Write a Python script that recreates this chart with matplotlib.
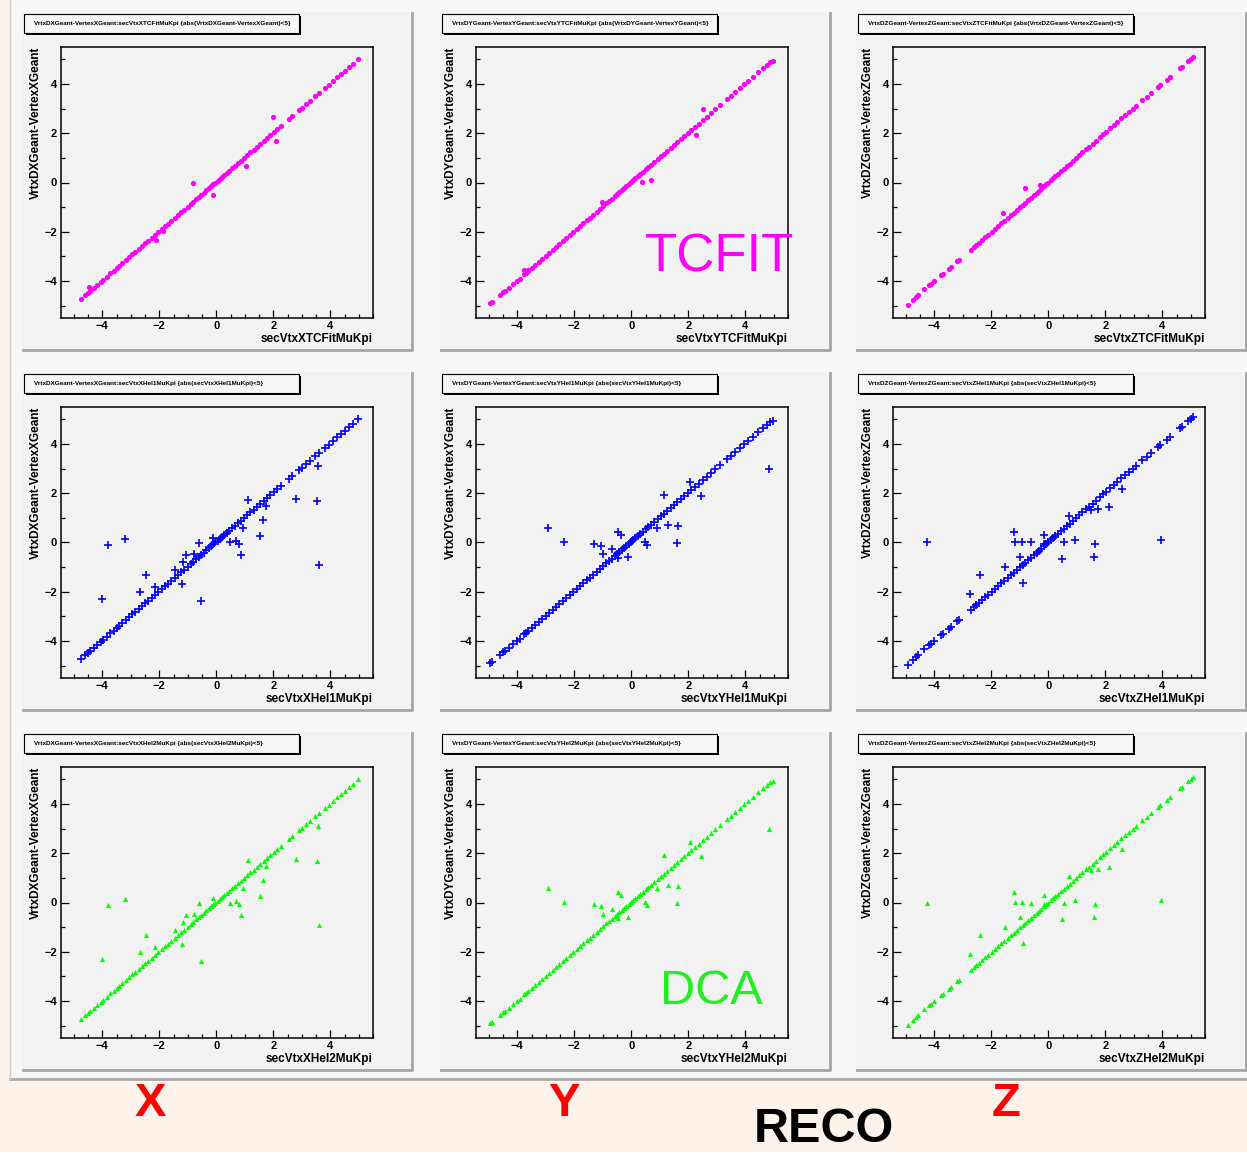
"""
Vertex residual scatter grid: Geant truth vs reconstructed secondary vertex
(TCFit / Hel1 / Hel2) for X, Y, Z.
"""

import matplotlib
matplotlib.use("Agg")
import matplotlib.pyplot as plt
from matplotlib import font_manager
from matplotlib.patches import Rectangle
from matplotlib.lines import Line2D
from matplotlib.ticker import MultipleLocator

W, H = 1247, 1152
plt.rcParams["font.family"] = ["Liberation Sans", "DejaVu Sans"]

# ---------------------------------------------------------------------------
# data
# ---------------------------------------------------------------------------

COORDS = ["X", "Y", "Z"]
RECOS = ["TCFit", "Hel1", "Hel2"]

# points along the diagonal, one set per coordinate
diag_x_X = [-4.75, -4.62, -4.5, -4.44, -4.3, -4.18, -4.05, -3.98, -3.85, -3.72, -3.6, -3.5,
            -3.41, -3.3, -3.18, -3.05, -2.95, -2.84, -2.72, -2.6, -2.5, -2.38, -2.26, -2.15,
            -2.03, -1.92, -1.8, -1.7, -1.58, -1.46, -1.35, -1.24, -1.12, -1.0, -0.9, -0.8,
            -0.7, -0.62, -0.52, -0.44, -0.35, -0.26, -0.18, -0.1, -0.03, 0.05, 0.12, 0.2,
            0.28, 0.37, 0.46, 0.55, 0.65, 0.76, 0.86, 0.97, 1.08, 1.2, 1.31, 1.43, 1.55,
            1.66, 1.78, 1.9, 2.02, 2.14, 2.27, 2.55, 2.66, 2.9, 3.02, 3.15, 3.3, 3.48, 3.62,
            3.82, 3.95, 4.1, 4.25, 4.38, 4.52, 4.65, 4.8, 4.98]
diag_y_X = [-4.72, -4.58, -4.49, -4.4, -4.27, -4.16, -4.02, -3.97, -3.83, -3.69, -3.58, -3.47,
            -3.4, -3.27, -3.16, -3.03, -2.92, -2.82, -2.7, -2.58, -2.47, -2.36, -2.24, -2.12,
            -2.01, -1.9, -1.77, -1.68, -1.55, -1.44, -1.33, -1.21, -1.1, -0.98, -0.87, -0.78,
            -0.67, -0.6, -0.49, -0.42, -0.32, -0.24, -0.15, -0.08, 0.0, 0.08, 0.14, 0.23,
            0.3, 0.4, 0.48, 0.58, 0.67, 0.79, 0.88, 1.0, 1.1, 1.23, 1.33, 1.46, 1.57,
            1.69, 1.8, 1.93, 2.04, 2.17, 2.29, 2.58, 2.68, 2.93, 3.04, 3.18, 3.32, 3.51, 3.64,
            3.85, 3.97, 4.13, 4.27, 4.41, 4.54, 4.68, 4.82, 5.0]

diag_x_Y = [-4.97, -4.88, -4.6, -4.5, -4.42, -4.3, -4.15, -4.02, -3.92, -3.78, -3.7, -3.62,
            -3.5, -3.38, -3.25, -3.12, -3.0, -2.88, -2.76, -2.64, -2.52, -2.4, -2.28, -2.15,
            -2.03, -1.9, -1.8, -1.68, -1.56, -1.45, -1.33, -1.22, -1.1, -0.98, -0.88, -0.78,
            -0.68, -0.58, -0.5, -0.42, -0.33, -0.25, -0.17, -0.09, -0.02, 0.06, 0.14, 0.22,
            0.31, 0.4, 0.5, 0.6, 0.7, 0.81, 0.92, 1.03, 1.14, 1.26, 1.38, 1.5, 1.62, 1.74,
            1.86, 1.98, 2.1, 2.22, 2.36, 2.5, 2.64, 2.8, 2.95, 3.1, 3.35, 3.5, 3.65, 3.8,
            3.95, 4.1, 4.28, 4.45, 4.62, 4.75, 4.88, 4.98]
diag_y_Y = [-4.9, -4.86, -4.58, -4.46, -4.4, -4.27, -4.1, -3.98, -3.9, -3.73, -3.66, -3.58,
            -3.48, -3.35, -3.22, -3.1, -2.97, -2.85, -2.72, -2.62, -2.49, -2.37, -2.25, -2.12,
            -2.0, -1.87, -1.78, -1.65, -1.53, -1.43, -1.3, -1.19, -1.08, -0.96, -0.85, -0.76,
            -0.65, -0.56, -0.47, -0.39, -0.3, -0.22, -0.14, -0.06, 0.01, 0.09, 0.17, 0.25,
            0.34, 0.43, 0.53, 0.63, 0.73, 0.84, 0.95, 1.06, 1.17, 1.29, 1.41, 1.53, 1.65, 1.77,
            1.89, 2.01, 2.13, 2.26, 2.39, 2.53, 2.67, 2.83, 2.98, 3.13, 3.38, 3.53, 3.68, 3.83,
            3.98, 4.13, 4.3, 4.47, 4.64, 4.77, 4.9, 4.95]

diag_x_Z = [-4.93, -4.75, -4.66, -4.58, -4.35, -4.18, -4.1, -4.02, -3.75, -3.68, -3.5, -3.42,
            -3.22, -3.15, -2.72, -2.62, -2.52, -2.42, -2.32, -2.22, -2.1, -1.98, -1.87, -1.76,
            -1.65, -1.54, -1.43, -1.32, -1.2, -1.1, -1.0, -0.9, -0.8, -0.7, -0.6, -0.5, -0.41,
            -0.32, -0.24, -0.16, -0.08, 0.0, 0.08, 0.16, 0.25, 0.34, 0.44, 0.54, 0.64, 0.75,
            0.86, 0.97, 1.08, 1.2, 1.32, 1.44, 1.56, 1.68, 1.8, 1.92, 2.04, 2.16, 2.3, 2.42,
            2.56, 2.7, 2.84, 2.96, 3.08, 3.3, 3.45, 3.6, 3.85, 3.92, 4.15, 4.28, 4.62, 4.68,
            4.9, 5.0, 5.07]
diag_y_Z = [-4.98, -4.78, -4.64, -4.58, -4.33, -4.16, -4.1, -4.0, -3.77, -3.7, -3.52, -3.44,
            -3.2, -3.16, -2.74, -2.63, -2.54, -2.44, -2.33, -2.23, -2.12, -1.99, -1.88, -1.78,
            -1.66, -1.55, -1.44, -1.33, -1.22, -1.12, -1.01, -0.91, -0.82, -0.71, -0.61, -0.51,
            -0.42, -0.33, -0.25, -0.16, -0.08, 0.0, 0.09, 0.17, 0.26, 0.35, 0.46, 0.55, 0.66,
            0.77, 0.88, 0.99, 1.1, 1.22, 1.34, 1.46, 1.58, 1.7, 1.83, 1.95, 2.07, 2.2, 2.33,
            2.46, 2.6, 2.74, 2.88, 3.0, 3.12, 3.33, 3.48, 3.62, 3.88, 3.95, 4.18, 4.3, 4.64,
            4.7, 4.93, 5.03, 5.09]

# off-diagonal points, TCFit
tc_out_x_X = [-0.82, -0.12, 2.0, 2.09, 1.04, -2.12, -1.86, -4.47]
tc_out_y_X = [-0.04, -0.49, 2.67, 1.69, 0.68, -2.35, -1.97, -4.24]
tc_out_x_Y = [2.51, 0.36, 0.69, -1.04, -3.77, -3.62, 2.26]
tc_out_y_Y = [2.97, 0.04, 0.12, -0.81, -3.54, -3.56, 1.93]
tc_out_x_Z = [-0.8, -1.6, -0.3]
tc_out_y_Z = [-0.22, -1.25, -0.12]

# off-diagonal points, helix fits (Hel1 and Hel2 look identical)
hel_out_x_X = [-3.81, -3.19, -4.01, -2.45, -2.69, -2.14, -1.46, -1.20, -1.06, -1.18, -0.77,
               -0.60, -0.55, -0.13, 0.47, 0.68, 0.81, 0.88, 0.93, 1.10, 1.64, 1.54, 1.75,
               2.80, 3.53, 3.56, 3.61]
hel_out_y_X = [-0.11, 0.16, -2.31, -1.33, -2.0, -1.80, -1.13, -1.69, -0.52, -0.79, -0.46,
               -0.01, -2.37, 0.19, 0.0, 0.08, -0.08, -0.52, 0.57, 1.73, 0.91, 0.26, 1.47,
               1.78, 1.69, 3.10, -0.93]
hel_out_x_Y = [-2.92, -2.35, -1.30, -1.06, -0.99, -0.67, -0.47, -0.36, -0.46, -0.11, 0.48,
               0.56, 0.91, 1.30, 1.64, 1.16, 1.60, 2.05, 2.44, 4.83]
hel_out_y_Y = [0.60, 0.04, -0.05, -0.16, -0.48, -0.26, 0.41, 0.30, -0.63, -0.57, 0.03,
               -0.11, 0.60, 0.71, 0.65, 1.93, -0.01, 2.45, 1.88, 2.97]
hel_out_x_Z = [-4.26, -2.74, -2.39, -1.51, -1.21, -1.16, -0.94, -0.99, -0.90, -0.59, -0.16,
               -0.16, 0.55, 0.47, 0.73, 0.94, 1.50, 1.64, 1.62, 1.75, 2.13, 2.58, 3.95]
hel_out_y_Z = [0.0, -2.10, -1.33, -1.01, 0.41, 0.04, 0.04, -0.57, -1.65, 0.0, 0.30,
               -0.08, 0.0, -0.68, 1.07, 0.11, 1.33, -0.08, -0.57, 1.37, 1.44, 2.19, 0.10]

DIAG = {"X": (diag_x_X, diag_y_X), "Y": (diag_x_Y, diag_y_Y), "Z": (diag_x_Z, diag_y_Z)}
TC_OUT = {"X": (tc_out_x_X, tc_out_y_X), "Y": (tc_out_x_Y, tc_out_y_Y),
          "Z": (tc_out_x_Z, tc_out_y_Z)}
HEL_OUT = {"X": (hel_out_x_X, hel_out_y_X), "Y": (hel_out_x_Y, hel_out_y_Y),
           "Z": (hel_out_x_Z, hel_out_y_Z)}

STYLE = {
    "TCFit": dict(marker="o", s=14, color="#ff00ff", linewidths=0),
    "Hel1": dict(marker="+", s=32, color="#0000ff", linewidths=1.2),
    "Hel2": dict(marker="^", s=14, color="#00ff00", linewidths=0),
}

# ---------------------------------------------------------------------------
# layout helpers (pixel -> figure fraction)
# ---------------------------------------------------------------------------

PANEL_X = [22, 440, 856]
PANEL_Y = [12, 372, 732]
AX_X = [61, 476, 893]
PANEL_W, PANEL_H = 390, 338
AX_W, AX_H = 312, 271
AX_DY = 35


def rect_px(fig, x0, y0, w, h, **kw):
    fig.add_artist(Rectangle((x0 / W, 1 - (y0 + h) / H), w / W, h / H,
                             transform=fig.transFigure, **kw))


def line_px(fig, xs, ys, **kw):
    fig.add_artist(Line2D([x / W for x in xs], [1 - y / H for y in ys],
                          transform=fig.transFigure, **kw))


def text_px(fig, x, y, s, **kw):
    fig.text(x / W, 1 - y / H, s, ha="center", va="center", **kw)


fig = plt.figure(figsize=(W / 100, H / 100), dpi=100, facecolor="#fdf3ea")

# screenshot area and canvases
rect_px(fig, 10, 0, W - 10, 1080, facecolor="#f7f7f7", edgecolor="none", zorder=-5)
line_px(fig, [10, W], [1079, 1079], color="#a8a8a8", linewidth=2, zorder=-4)
line_px(fig, [10, 10], [0, 1079], color="#d0d0d0", linewidth=1, zorder=-4)

for ci, coord in enumerate(COORDS):
    for ri, reco in enumerate(RECOS):
        px, py = PANEL_X[ci], PANEL_Y[ri]
        rect_px(fig, px, py, PANEL_W, PANEL_H, facecolor="#f2f2f2", edgecolor="none",
                zorder=-3)
        line_px(fig, [px + 1, px + PANEL_W, px + PANEL_W], [py + PANEL_H, py + PANEL_H, py + 1],
                color="#a6a6a6", linewidth=2, zorder=-2)

        # title pave
        rect_px(fig, px + 4, py + 4, 275, 19, facecolor="black", edgecolor="none", zorder=1)
        rect_px(fig, px + 2, py + 2, 275, 19, facecolor="#f6f6f6", edgecolor="black",
                linewidth=0.8, zorder=2)
        if reco == "TCFit":
            title = (f"VrtxD{coord}Geant-Vertex{coord}Geant:secVtx{coord}TCFitMuKpi "
                     f"{{abs(VrtxD{coord}Geant-Vertex{coord}Geant)<5}}")
        else:
            title = (f"VrtxD{coord}Geant-Vertex{coord}Geant:secVtx{coord}{reco}MuKpi "
                     f"{{abs(secVtx{coord}{reco}MuKpi)<5}}")
        fig.text((px + 12) / W, 1 - (py + 11.5) / H, title, ha="left", va="center",
                 fontsize=4.6, fontweight="bold", zorder=3)

        # the scatter frame
        ay = py + AX_DY
        ax = fig.add_axes([AX_X[ci] / W, 1 - (ay + AX_H) / H, AX_W / W, AX_H / H])
        ax.set_facecolor("#f2f2f2")
        dx, dy = DIAG[coord]
        ox, oy = TC_OUT[coord] if reco == "TCFit" else HEL_OUT[coord]
        ax.scatter(dx, dy, **STYLE[reco])
        ax.scatter(ox, oy, **STYLE[reco])

        ax.set_xlim(-5.45, 5.5)
        ax.set_ylim(-5.5, 5.5)
        ax.xaxis.set_major_locator(MultipleLocator(2))
        ax.xaxis.set_minor_locator(MultipleLocator(0.5))
        ax.yaxis.set_major_locator(MultipleLocator(2))
        ax.yaxis.set_minor_locator(MultipleLocator(1))
        ax.tick_params(axis="x", which="major", direction="in", length=6, width=0.9,
                       pad=2, labelsize=8)
        ax.tick_params(axis="x", which="minor", direction="in", length=3.2, width=0.9)
        ax.tick_params(axis="y", which="major", direction="in", length=5.5, width=0.9,
                       pad=3, labelsize=8)
        ax.tick_params(axis="y", which="minor", direction="in", length=2.8, width=0.9)
        for lab in ax.get_xticklabels() + ax.get_yticklabels():
            lab.set_fontweight("bold")
        for sp in ax.spines.values():
            sp.set_linewidth(1.1)

        ax.set_xlabel(f"secVtx{coord}{reco}MuKpi", loc="right", fontsize=8.5,
                      fontweight="bold")
        ax.xaxis.set_label_coords(1.0, -0.055)
        ax.set_ylabel(f"VrtxD{coord}Geant-Vertex{coord}Geant", loc="top", fontsize=8.5,
                      fontweight="bold")
        ax.yaxis.set_label_coords(-0.062, 1.0)

# ---------------------------------------------------------------------------
# slide annotations
# ---------------------------------------------------------------------------

names = {f.name for f in font_manager.fontManager.ttflist}
narrow = "Liberation Sans Narrow" if "Liberation Sans Narrow" in names else "Liberation Sans"

text_px(fig, 720, 258, "TCFIT", fontsize=38, color="#ff00ff", zorder=10)
text_px(fig, 711, 991, "DCA", fontsize=35, color="#22ee22", zorder=10)
for label, xpos in zip(COORDS, [150, 564, 1006]):
    text_px(fig, xpos, 1104, label, fontsize=34, color="#ff0000", fontweight="bold",
            family=[narrow, "DejaVu Sans"])
text_px(fig, 824, 1130, "RECO", fontsize=35, color="black", fontweight="bold",
        family=[narrow, "DejaVu Sans"])

fig.savefig("out.png", dpi=100, facecolor=fig.get_facecolor())
